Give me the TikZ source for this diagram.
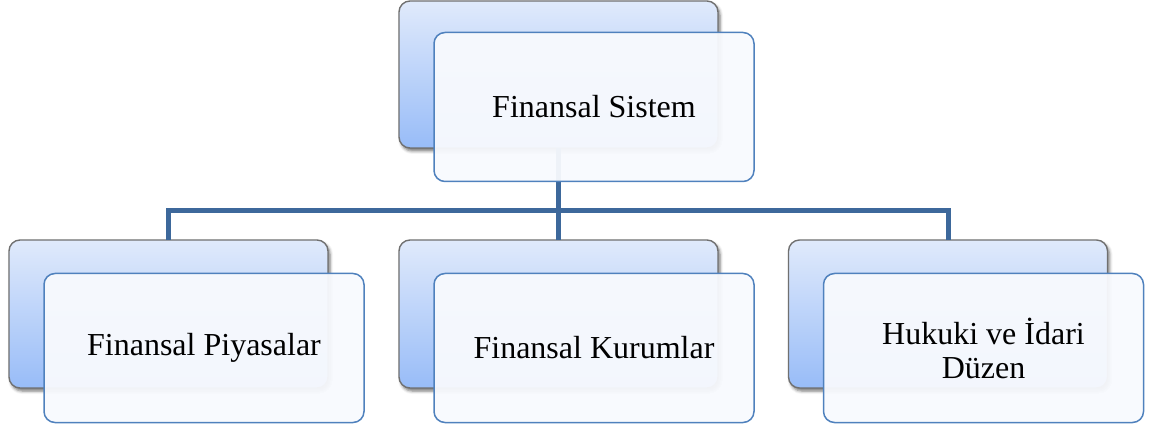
\documentclass[tikz,border=0pt]{standalone}
\usepackage{fontspec}
\setmainfont{Liberation Serif}
\usetikzlibrary{shadows.blur}
\definecolor{linkblue}{RGB}{61,104,155}
\definecolor{backtop}{RGB}{224,234,251}
\definecolor{backbot}{RGB}{152,188,248}
\definecolor{backedge}{RGB}{112,112,112}
\definecolor{frontfill}{RGB}{248,250,254}
\definecolor{frontedge}{RGB}{79,129,189}
\tikzset{
  backbox/.style={draw=backedge, line width=1.4pt, rounded corners=11pt,
    top color=backtop, bottom color=backbot, minimum width=319pt,
    minimum height=148pt, inner sep=0pt, outer sep=0pt,
    blur shadow={shadow xshift=2pt, shadow yshift=-3pt,
      shadow blur radius=3pt, shadow opacity=55}},
  frontbox/.style={draw=frontedge, line width=1.5pt, rounded corners=11pt,
    fill=frontfill, fill opacity=0.95, text opacity=1, minimum width=320pt,
    minimum height=149pt, inner sep=0pt, outer sep=0pt, align=center,
    font=\fontsize{32}{34}\selectfont},
  link/.style={draw=linkblue, line width=5pt}
}
\begin{document}
\begin{tikzpicture}[x=1pt,y=-1pt]
\useasboundingbox (0,0) rectangle (1155,427);
% back panels
\node[backbox, minimum height=147pt] (topB) at (558.5,74.5) {};
\node[backbox] (leftB) at (168.5,314) {};
\node[backbox] (midB) at (558.5,314) {};
\node[backbox] (rightB) at (948,314) {};
% connectors
\coordinate (bus) at (558.5,211);
\draw[link] (topB.south) -- (bus);
\draw[link] (bus) -| (leftB.north);
\draw[link] (bus) -- (midB.north);
\draw[link] (bus) -| (rightB.north);
% front panels with labels
\node[frontbox] (top) at (594,107) {Finansal Sistem};
\node[frontbox] (left) at (204,348) {Finansal Piyasalar};
\node[frontbox] (mid) at (594,348) {Finansal Kurumlar};
\node[frontbox] (right) at (983.5,348) {Hukuki ve İdari\\Düzen};
\end{tikzpicture}
\end{document}
